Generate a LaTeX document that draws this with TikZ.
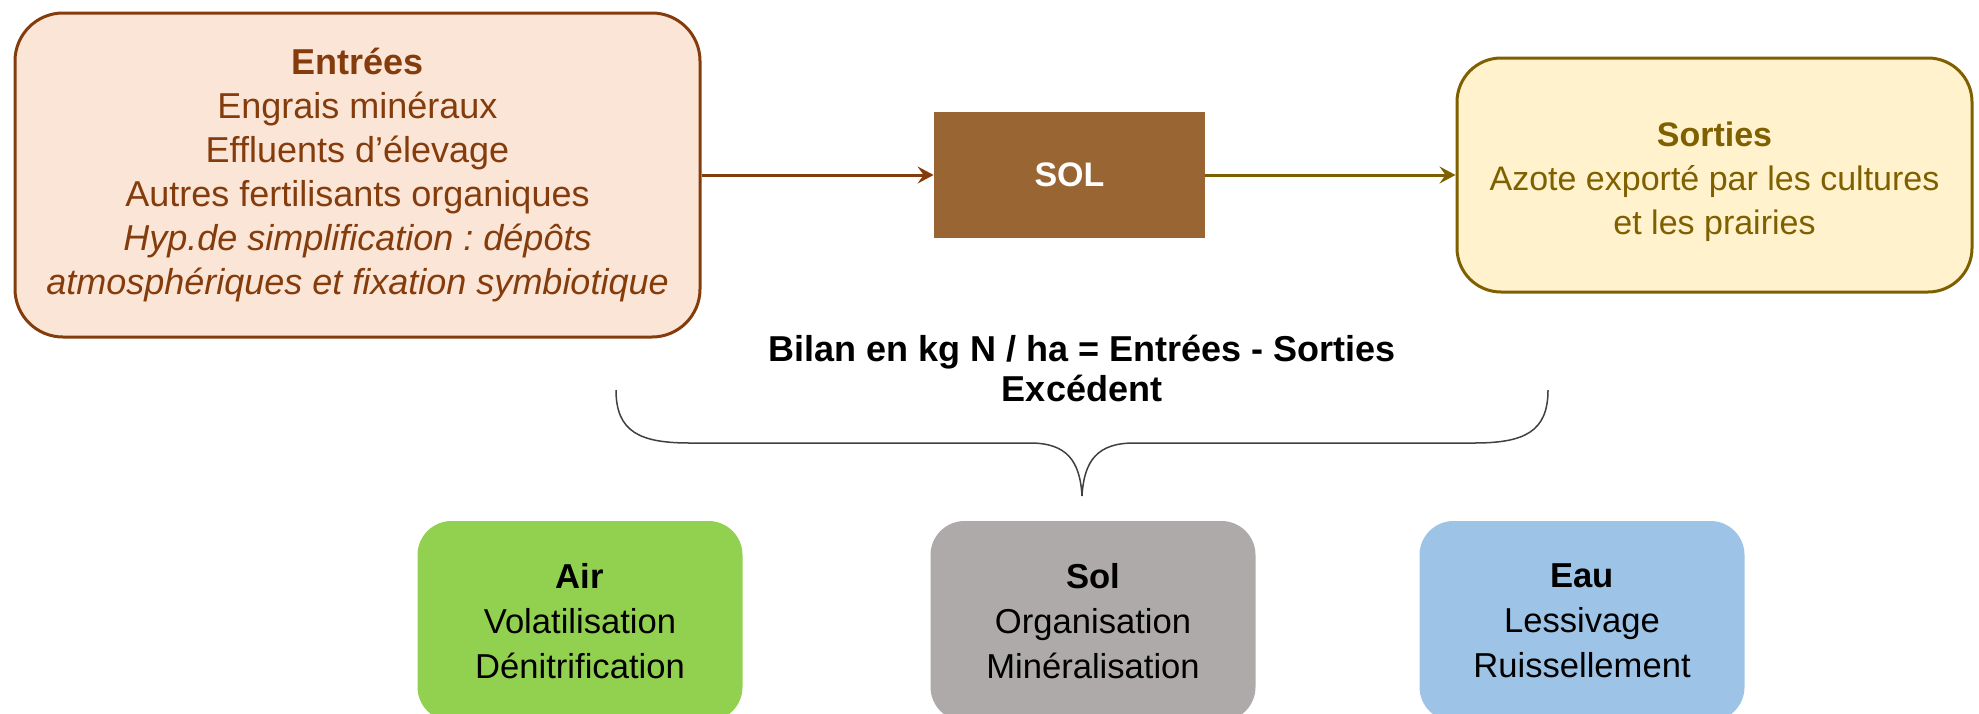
\documentclass[tikz,border=0pt]{standalone}
\usepackage{fontspec}
\setmainfont{Liberation Sans}
\usetikzlibrary{arrows.meta}
\frenchspacing

\definecolor{inbrown}{HTML}{843C0C}
\definecolor{infill}{HTML}{FBE5D6}
\definecolor{outolive}{HTML}{7F6000}
\definecolor{outfill}{HTML}{FFF2CC}
\definecolor{solbrown}{HTML}{996633}
\definecolor{airgreen}{HTML}{92D050}
\definecolor{solgrey}{HTML}{AEAAAA}
\definecolor{eaublue}{HTML}{9DC3E6}

\tikzset{
  bigbox/.style={draw, line width=1.5pt, rounded corners=24pt, align=center, inner sep=0pt},
  lossbox/.style={rounded corners=17pt, minimum width=162.5pt, minimum height=100pt,
    align=center, inner sep=0pt, font=\fontsize{17.3}{22.5}\selectfont},
  flow/.style={line width=1.5pt, -{Stealth[length=8pt, width=8.5pt, inset=3pt]}}
}

\begin{document}
\begin{tikzpicture}[x=0.5pt, y=-0.5pt]

    % Page frame (1 unit = one pixel of the layout grid)
    \useasboundingbox (0,0) rectangle (1979,713);
    \clip (0,0) rectangle (1979,713);

    % 1. Top row: inputs -> soil -> outputs
    \node[bigbox, draw=inbrown, fill=infill, text=inbrown,
          minimum width=342.5pt, minimum height=162pt,
          font=\fontsize{18}{22}\selectfont] (entrees) at (357.5,175)
        {\textbf{Entrées}\\Engrais minéraux\\Effluents d’élevage\\Autres fertilisants organiques\\
         \textit{Hyp.de simplification : dépôts}\\\textit{atmosphériques et fixation symbiotique}};

    \node[fill=solbrown, text=white, minimum width=135.5pt, minimum height=63pt,
          font=\fontsize{17}{20}\selectfont\bfseries] (sol) at (1069.5,175) {SOL};

    \node[bigbox, draw=outolive, fill=outfill, text=outolive, rounded corners=22pt,
          minimum width=257.5pt, minimum height=117pt,
          font=\fontsize{17}{22}\selectfont] (sorties) at (1714.5,175)
        {\rule{0pt}{19pt}\textbf{Sorties}\\Azote exporté par les cultures\\et les prairies};

    \draw[flow, inbrown] (entrees) -- (sol);
    \draw[flow, outolive] (sol) -- (sorties);

    % 2. Balance label and the brace under it
    \node[align=center, font=\fontsize{18}{20}\selectfont\bfseries] (bilan) at (1082,368)
        {Bilan en kg N / ha = Entrées - Sorties\\Excédent};

    \coordinate (tip) at (1082,496);
    \draw[line width=0.75pt, black!75]
        (616,390) .. controls (616,432) and (640,443) .. (690,443) -- (1030,443)
        .. controls (1066,443) and (1080,460) .. (tip)
        .. controls (1084,460) and (1098,443) .. (1134,443) -- (1474,443)
        .. controls (1524,443) and (1548,432) .. (1548,390);

    % 3. Where the surplus ends up
    \node[lossbox, fill=airgreen] (air) at (580,621)
        {\textbf{Air}\\Volatilisation\\Dénitrification};
    \node[lossbox, fill=solgrey] (solpool) at (1093,621)
        {\textbf{Sol}\\Organisation\\Minéralisation};
    \node[lossbox, fill=eaublue] (eau) at (1582,621)
        {\textbf{Eau}\\Lessivage\\Ruissellement};
\end{tikzpicture}
\end{document}
